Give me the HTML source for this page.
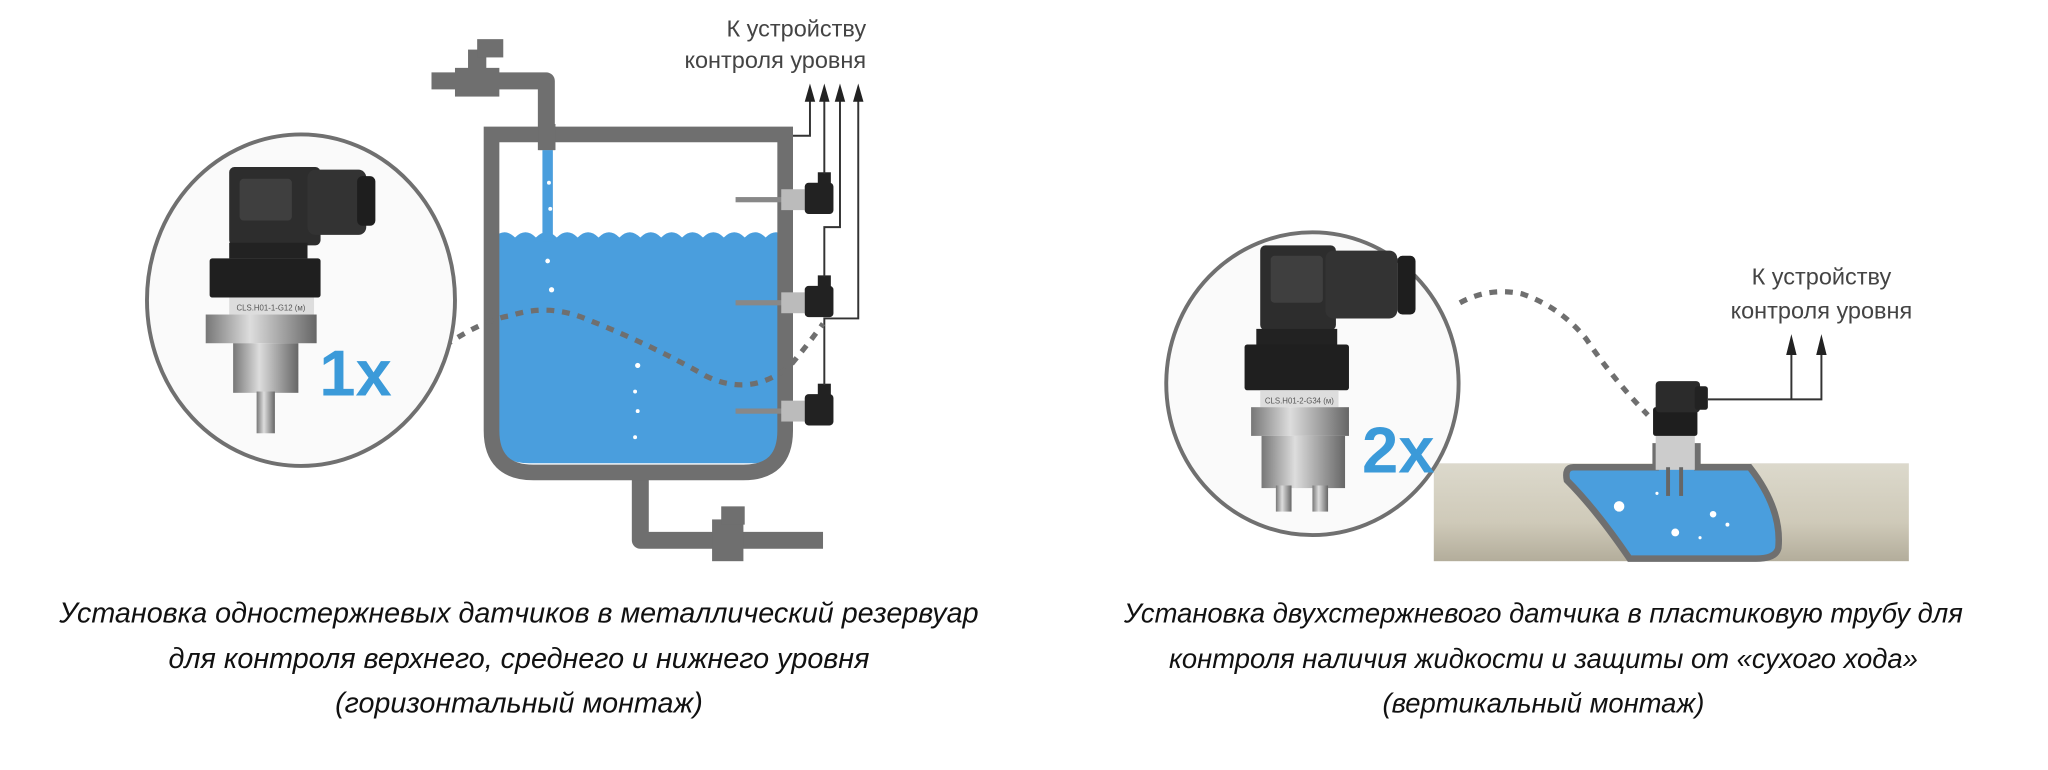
<!DOCTYPE html>
<html><head><meta charset="utf-8"><style>
html,body{margin:0;padding:0;background:#fff;}
svg{display:block}
text{font-family:"Liberation Sans",sans-serif}
.cap{font-style:italic;fill:#111;text-anchor:middle}
.lbl{font-size:18px;fill:#444}
</style></head><body>
<svg width="2048" height="770" viewBox="0 0 1568 590" xmlns="http://www.w3.org/2000/svg">
<defs>
<linearGradient id="pipe" x1="0" y1="0" x2="0" y2="1"><stop offset="0" stop-color="#dcd9cc"/><stop offset="0.6" stop-color="#cfcab9"/><stop offset="1" stop-color="#b3ad9b"/></linearGradient>
<linearGradient id="metal" x1="0" y1="0" x2="1" y2="0"><stop offset="0" stop-color="#777"/><stop offset="0.4" stop-color="#ddd"/><stop offset="1" stop-color="#666"/></linearGradient>
</defs>
<!-- LEFT -->
<path d="M330,62 H418 V115" fill="none" stroke="#6f6f6f" stroke-width="13" stroke-linejoin="round"/>
<rect x="358" y="38" width="14" height="28" fill="#6f6f6f"/><rect x="365" y="30" width="20" height="14" fill="#6f6f6f"/><rect x="348" y="52" width="34" height="22" fill="#6f6f6f"/>
<path d="M490,362 V414 H630" fill="none" stroke="#6f6f6f" stroke-width="13" stroke-linejoin="round"/>
<rect x="545" y="398" width="24" height="32" fill="#6f6f6f"/><rect x="552" y="388" width="18" height="14" fill="#6f6f6f"/>
<path d="M378,182 q8,-8 16,0 q8,-8 16,0 q8,-8 16,0 q8,-8 16,0 q8,-8 16,0 q8,-8 16,0 q8,-8 16,0 q8,-8 16,0 q8,-8 16,0 q8,-8 16,0 q8,-8 16,0 q8,-8 16,0 q8,-8 16,0 q8,-8 16,0 L600,182 V330 Q600,355 575,355 H405 Q378,355 378,330 Z" fill="#4a9edd"/>
<rect x="415" y="115" width="8" height="70" fill="#4a9edd"/>
<g fill="#fff"><circle cx="420" cy="140" r="1.5"/><circle cx="421" cy="160" r="1.5"/><circle cx="419" cy="200" r="1.8"/><circle cx="422" cy="222" r="2"/><circle cx="488" cy="280" r="2"/><circle cx="486" cy="300" r="1.5"/><circle cx="488" cy="315" r="1.5"/><circle cx="486" cy="335" r="1.5"/></g>
<path d="M376,103 H601 V330 Q601,362 569,362 H408 Q376,362 376,330 Z" fill="none" stroke="#6f6f6f" stroke-width="12"/>
<rect x="412" y="95" width="13" height="20" fill="#6f6f6f"/>
<g>
<rect x="563" y="151" width="38" height="4" fill="#888"/><rect x="598" y="145" width="18" height="16" fill="#bbb"/><rect x="616" y="140" width="22" height="24" rx="3" fill="#222"/><rect x="626" y="132" width="10" height="10" fill="#222"/>
<rect x="563" y="230" width="38" height="4" fill="#888"/><rect x="598" y="224" width="18" height="16" fill="#bbb"/><rect x="616" y="219" width="22" height="24" rx="3" fill="#222"/><rect x="626" y="211" width="10" height="10" fill="#222"/>
<rect x="563" y="313" width="38" height="4" fill="#888"/><rect x="598" y="307" width="18" height="16" fill="#bbb"/><rect x="616" y="302" width="22" height="24" rx="3" fill="#222"/><rect x="626" y="294" width="10" height="10" fill="#222"/>
</g>
<g fill="none" stroke="#333" stroke-width="1.5">
<path d="M607,104 H620 V74"/>
<path d="M631,133 V74"/>
<path d="M631,212 V174 H643 V74"/>
<path d="M631,295 V244 H657 V74"/>
</g>
<g fill="#222">
<path d="M616,78 L620,64 L624,78 Z"/><path d="M627,78 L631,64 L635,78 Z"/><path d="M639,78 L643,64 L647,78 Z"/><path d="M653,78 L657,64 L661,78 Z"/>
</g>
<text class="lbl" x="663" y="28" text-anchor="end">К устройству</text>
<text class="lbl" x="663" y="52" text-anchor="end">контроля уровня</text>
<path d="M340,265 Q370,245 390,242 Q420,232 450,245 Q500,265 540,288 Q575,305 605,280 Q620,262 630,248" fill="none" stroke="#6f6f6f" stroke-width="4" stroke-dasharray="6,6"/>
<ellipse cx="230" cy="230" rx="118" ry="127" fill="#fafafa" stroke="#707070" stroke-width="3"/>
<rect x="175" y="128" width="70" height="60" rx="4" fill="#2d2d2d"/><rect x="183" y="137" width="40" height="32" rx="3" fill="#3f3f3f"/>
<rect x="235" y="130" width="45" height="50" rx="6" fill="#333"/><rect x="273" y="135" width="14" height="38" rx="4" fill="#1e1e1e"/>
<rect x="175" y="186" width="60" height="12" fill="#222"/>
<rect x="160" y="198" width="85" height="30" rx="2" fill="#1f1f1f"/>
<rect x="175" y="228" width="65" height="13" fill="#ddd"/>
<text x="207" y="238" font-size="6" text-anchor="middle" fill="#555">CLS.H01-1-G12 (м)</text>
<rect x="157" y="241" width="85" height="22" fill="url(#metal)"/>
<rect x="178" y="263" width="50" height="38" fill="url(#metal)"/>
<rect x="196" y="300" width="14" height="32" fill="url(#metal)"/>
<text x="244" y="303" font-size="50" font-weight="bold" fill="#3b9ad9">1x</text>

<!-- RIGHT -->
<rect x="1098" y="355" width="364" height="75" fill="url(#pipe)"/>
<path d="M1205,358 H1268 V342 H1300 V358 H1340 Q1365,390 1362,420 Q1360,428 1345,428 H1248 Q1222,390 1200,368 Q1198,358 1205,358 Z" fill="#4a9edd" stroke="#6f6f6f" stroke-width="5"/>
<g fill="#fff"><circle cx="1240" cy="388" r="4"/><circle cx="1283" cy="408" r="3"/><circle cx="1312" cy="394" r="2.5"/><circle cx="1323" cy="402" r="1.5"/><circle cx="1302" cy="412" r="1.2"/><circle cx="1269" cy="378" r="1.2"/></g>
<rect x="1268" y="332" width="30" height="28" fill="#ccc"/>
<rect x="1276" y="358" width="3" height="22" fill="#666"/><rect x="1286" y="358" width="3" height="22" fill="#666"/>
<rect x="1266" y="312" width="34" height="22" rx="2" fill="#1e1e1e"/>
<rect x="1268" y="292" width="34" height="24" rx="3" fill="#2b2b2b"/><rect x="1298" y="296" width="10" height="18" rx="2" fill="#222"/>
<g fill="none" stroke="#333" stroke-width="1.5">
<path d="M1308,306 H1395 V266"/>
<path d="M1372,306 V266"/>
</g>
<g fill="#222"><path d="M1368,272 L1372,256 L1376,272 Z"/><path d="M1391,272 L1395,256 L1399,272 Z"/></g>
<text class="lbl" x="1395" y="218" text-anchor="middle">К устройству</text>
<text class="lbl" x="1395" y="244" text-anchor="middle">контроля уровня</text>
<path d="M1118,232 Q1140,220 1165,225 Q1195,235 1215,260 Q1235,290 1262,318" fill="none" stroke="#6f6f6f" stroke-width="4" stroke-dasharray="6,6"/>
<ellipse cx="1005" cy="294" rx="112" ry="116" fill="#fafafa" stroke="#707070" stroke-width="3"/>
<rect x="965" y="188" width="58" height="65" rx="4" fill="#2d2d2d"/><rect x="973" y="196" width="40" height="36" rx="3" fill="#3f3f3f"/>
<rect x="1015" y="192" width="55" height="52" rx="6" fill="#333"/><rect x="1070" y="196" width="14" height="45" rx="4" fill="#1e1e1e"/>
<rect x="962" y="252" width="62" height="12" fill="#222"/>
<rect x="953" y="264" width="80" height="35" rx="2" fill="#1f1f1f"/>
<rect x="965" y="299" width="60" height="13" fill="#ddd"/>
<text x="995" y="309" font-size="6" text-anchor="middle" fill="#555">CLS.H01-2-G34 (м)</text>
<rect x="958" y="312" width="75" height="22" fill="url(#metal)"/>
<rect x="966" y="334" width="64" height="40" fill="url(#metal)"/>
<rect x="977" y="372" width="12" height="20" fill="url(#metal)"/><rect x="1005" y="372" width="12" height="20" fill="url(#metal)"/>
<text x="1043" y="362" font-size="50" font-weight="bold" fill="#3b9ad9">2x</text>

<text class="cap" font-size="22" x="397" y="477">Установка одностержневых датчиков в металлический резервуар</text>
<text class="cap" font-size="22" x="397" y="512">для контроля верхнего, среднего и нижнего уровня</text>
<text class="cap" font-size="22" x="397" y="546">(горизонтальный монтаж)</text>
<text class="cap" font-size="21" x="1182" y="477">Установка двухстержневого датчика в пластиковую трубу для</text>
<text class="cap" font-size="21" x="1182" y="512">контроля наличия жидкости и защиты от «сухого хода»</text>
<text class="cap" font-size="21" x="1182" y="546">(вертикальный монтаж)</text>
</svg>
</body></html>
